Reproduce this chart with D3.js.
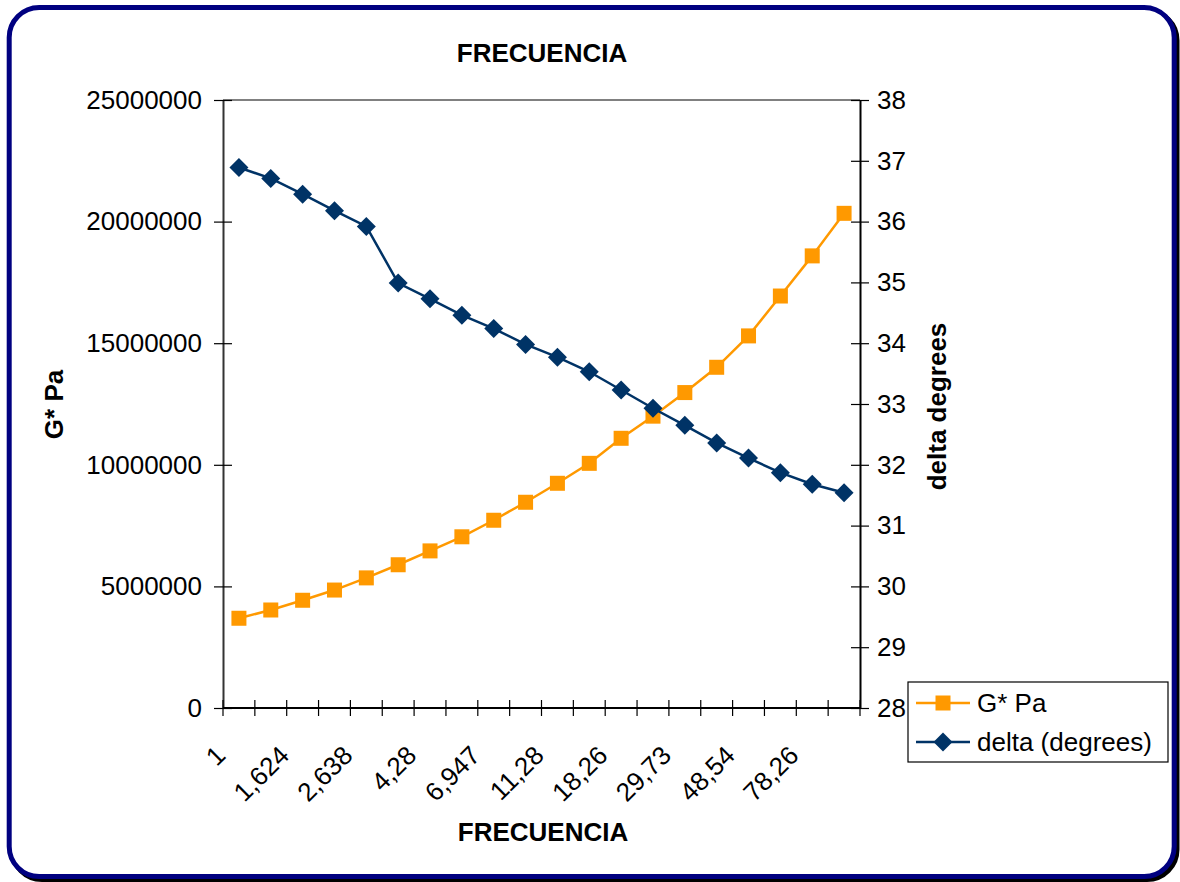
<!DOCTYPE html>
<html><head><meta charset="utf-8">
<script src="https://cdn.jsdelivr.net/npm/d3@7"></script>
<style>body{margin:0;background:#fff}svg{display:block;font-family:"Liberation Sans",Arial,sans-serif}</style>
</head><body><svg id="c" width="1180" height="882"></svg>
<script>
const categories = ["1","1,274","1,624","2,069","2,638","3,36","4,28","5,453","6,947","8,852","11,28","14,37","18,26","23,3","29,73","37,99","48,54","61,64","78,26","100"];
const shownLabelEvery = 2;
const gStar = [3690000,4030000,4430000,4850000,5350000,5890000,6460000,7040000,7720000,8460000,9240000,10060000,11090000,12000000,12970000,14010000,15300000,16940000,18590000,20340000];
const delta = [36.89,36.71,36.45,36.18,35.92,34.99,34.73,34.46,34.24,33.98,33.77,33.53,33.23,32.93,32.65,32.36,32.11,31.87,31.68,31.54];
const leftTicks = [0,5000000,10000000,15000000,20000000,25000000];
const rightTicks = [28,29,30,31,32,33,34,35,36,37,38];
const seriesNames = ["G* Pa","delta (degrees)"];
const titleText = "FRECUENCIA", xTitle = "FRECUENCIA", yLeftTitle = "G* Pa", yRightTitle = "delta degrees";

const svg = d3.select("#c");
const L = 223, R = 860, T = 100, B = 708;
const orange = "#FF9900", navy = "#003366";

// frame with shadow
svg.append("rect").attr("x",12).attr("y",10.5).attr("width",1165).attr("height",869).attr("rx",30).attr("fill","none").attr("stroke","#000").attr("stroke-width",5);
svg.append("rect").attr("x",9.2).attr("y",7.5).attr("width",1165).attr("height",869).attr("rx",30).attr("fill","#fff").attr("stroke","#000080").attr("stroke-width",5);

const x = d3.scaleBand().domain(d3.range(categories.length)).range([L,R]).padding(0);
const cx = i => x(i) + x.bandwidth()/2;
const yL = d3.scaleLinear().domain([0,25000000]).range([B,T]);
const yR = d3.scaleLinear().domain([28,38]).range([B,T]);

// top border
svg.append("line").attr("x1",L).attr("x2",R).attr("y1",T).attr("y2",T).attr("stroke","#808080").attr("stroke-width",2);

// left axis
const gl = svg.append("g").attr("transform",`translate(${L},0)`)
  .call(d3.axisLeft(yL).tickValues(leftTicks).tickFormat(d3.format("d")).tickSize(0).tickPadding(21));
gl.select(".domain").attr("stroke","#333").attr("stroke-width",2);
gl.selectAll(".tick text").attr("font-size",26).attr("fill","#000").attr("font-family","Liberation Sans, Arial");
gl.selectAll(".tick").append("line").attr("x1",-9).attr("x2",9).attr("stroke","#000").attr("stroke-width",1.2);

// right axis
const gr = svg.append("g").attr("transform",`translate(${R},0)`)
  .call(d3.axisRight(yR).tickValues(rightTicks).tickFormat(d3.format("d")).tickSize(0).tickPadding(17));
gr.select(".domain").attr("stroke","#000").attr("stroke-width",2);
gr.selectAll(".tick text").attr("font-size",26).attr("fill","#000").attr("font-family","Liberation Sans, Arial");
gr.selectAll(".tick").append("line").attr("x1",-9).attr("x2",9).attr("stroke","#000").attr("stroke-width",1.2);

// bottom axis
const gb = svg.append("g").attr("transform",`translate(0,${B})`);
gb.append("line").attr("x1",L).attr("x2",R).attr("stroke","#000").attr("stroke-width",2);
const edges = d3.range(categories.length+1).map(i => i < categories.length ? x(i) : R);
gb.selectAll("line.t").data(edges).join("line").attr("class","t")
  .attr("x1",d=>d).attr("x2",d=>d).attr("y1",-8).attr("y2",8).attr("stroke","#000").attr("stroke-width",1.2);
gb.selectAll("text").data(categories.map((c,i)=>({c,i})).filter(d=>d.i%shownLabelEvery===0)).join("text")
  .attr("transform",d=>`translate(${cx(d.i)-12},49) rotate(-45)`)
  .attr("text-anchor","end").attr("font-size",26).text(d=>d.c);

// lines
const lineG = d3.line().x((d,i)=>cx(i)).y(d=>yL(d));
const lineD = d3.line().x((d,i)=>cx(i)).y(d=>yR(d));
svg.append("path").datum(gStar).attr("d",lineG).attr("fill","none").attr("stroke",orange).attr("stroke-width",2.5);
svg.selectAll("rect.g").data(gStar).join("rect").attr("class","g")
  .attr("x",(d,i)=>cx(i)-7.5).attr("y",d=>yL(d)-7.5).attr("width",15).attr("height",15).attr("fill",orange);
svg.append("path").datum(delta).attr("d",lineD).attr("fill","none").attr("stroke",navy).attr("stroke-width",2.5);
const diamond = d3.symbol().type(d3.symbolDiamond2).size(230);
svg.selectAll("path.d").data(delta).join("path").attr("class","d")
  .attr("d",diamond).attr("transform",(d,i)=>`translate(${cx(i)},${yR(d)})`).attr("fill",navy);

// titles
svg.append("text").attr("x",542).attr("y",62).attr("text-anchor","middle").attr("font-size",26).attr("font-weight","bold").text(titleText);
svg.append("text").attr("x",543).attr("y",841).attr("text-anchor","middle").attr("font-size",26).attr("font-weight","bold").text(xTitle);
svg.append("text").attr("transform","translate(63,404.5) rotate(-90)").attr("text-anchor","middle").attr("font-size",26).attr("font-weight","bold").text(yLeftTitle);
svg.append("text").attr("transform","translate(946,406.5) rotate(-90)").attr("text-anchor","middle").attr("font-size",26).attr("font-weight","bold").text(yRightTitle);

// legend
const lg = svg.append("g");
lg.append("rect").attr("x",908).attr("y",682).attr("width",260).attr("height",80).attr("fill","#fff").attr("stroke","#000").attr("stroke-width",1.2);
const rows = [{n:seriesNames[0],c:orange,y:703,m:"sq"},{n:seriesNames[1],c:navy,y:742,m:"di"}];
rows.forEach(r=>{
  lg.append("line").attr("x1",916).attr("x2",970).attr("y1",r.y).attr("y2",r.y).attr("stroke",r.c).attr("stroke-width",2.5);
  if(r.m==="sq") lg.append("rect").attr("x",943-7.5).attr("y",r.y-7.5).attr("width",15).attr("height",15).attr("fill",r.c);
  else lg.append("path").attr("d",diamond).attr("transform",`translate(943,${r.y})`).attr("fill",r.c);
  lg.append("text").attr("x",977).attr("y",r.y).attr("dy","0.35em").attr("font-size",26).text(r.n);
});
</script></body></html>
